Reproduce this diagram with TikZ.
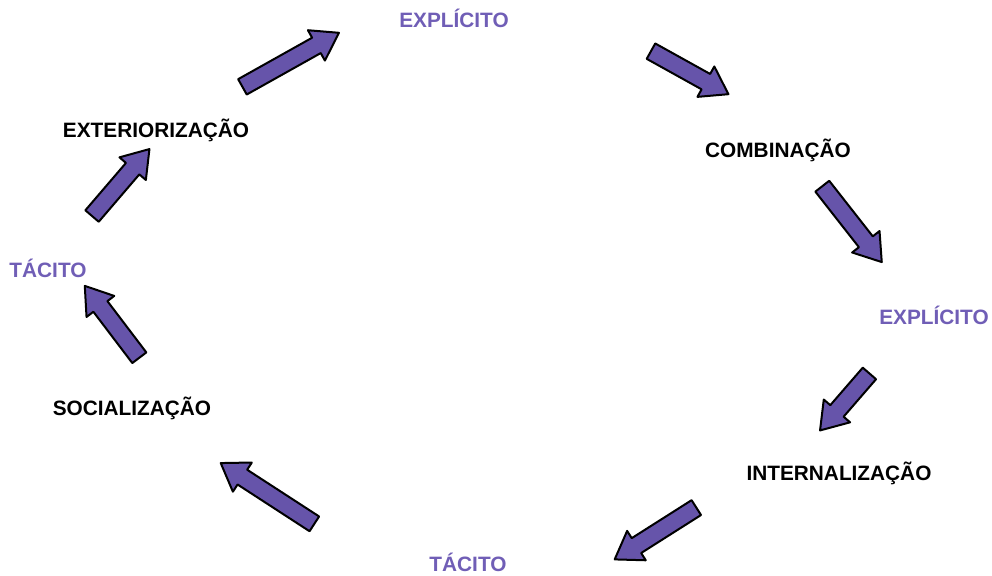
\documentclass[tikz,border=0pt]{standalone}
\usepackage{fontspec}
\setmainfont{Liberation Sans}
\usepackage{tikz}
\usetikzlibrary{shapes.arrows}

\definecolor{setafill}{RGB}{102,84,170}
\definecolor{rotulo}{RGB}{112,94,182}

\tikzset{
  modo/.style={anchor=base, font=\fontsize{10.4}{12}\selectfont\bfseries, text=rotulo},
  etapa/.style={anchor=base, font=\fontsize{10.4}{12}\selectfont\bfseries, text=black},
  seta/.style={single arrow, draw=black, fill=setafill, line width=1pt, line join=round,
    inner xsep=0pt, inner ysep=3.9pt, single arrow head extend=4.3pt,
    single arrow tip angle=68}
}

\begin{document}
\begin{tikzpicture}[x=0.5pt, y=-0.5pt]
\useasboundingbox (0,0) rectangle (992,575);

\node[modo] (expA) at (454,27) {EXPLÍCITO};
\node[etapa] (comb) at (778,157) {COMBINAÇÃO};
\node[modo] (expB) at (934,324) {EXPLÍCITO};
\node[etapa] (inter) at (839,480) {INTERNALIZAÇÃO};
\node[modo] (tacA) at (468,571) {TÁCITO};
\node[etapa] (soc) at (132,415) {SOCIALIZAÇÃO};
\node[modo] (tacB) at (48,277) {TÁCITO};
\node[etapa] (ext) at (156,137) {EXTERIORIZAÇÃO};

% setas do ciclo
\node[seta, minimum height=55.3pt, rotate=29.25] (s1) at (285,63) {};
\node[seta, minimum height=44.3pt, rotate=-29.05] (s2) at (684,69.5) {};
\node[seta, minimum height=48.2pt, rotate=-51.9] (s3) at (848,219) {};
\node[seta, minimum height=37.7pt, rotate=-130.9] (s4) at (849,397) {};
\node[seta, minimum height=48.35pt, rotate=-147.6] (s5) at (661,530) {};
\node[seta, minimum height=55.8pt, rotate=147.0] (s6) at (273,497) {};
\node[seta, minimum height=45.1pt, rotate=127.2] (s7) at (116,327) {};
\node[seta, minimum height=44.1pt, rotate=49.4] (s8) at (116.5,187.5) {};
\end{tikzpicture}
\end{document}
